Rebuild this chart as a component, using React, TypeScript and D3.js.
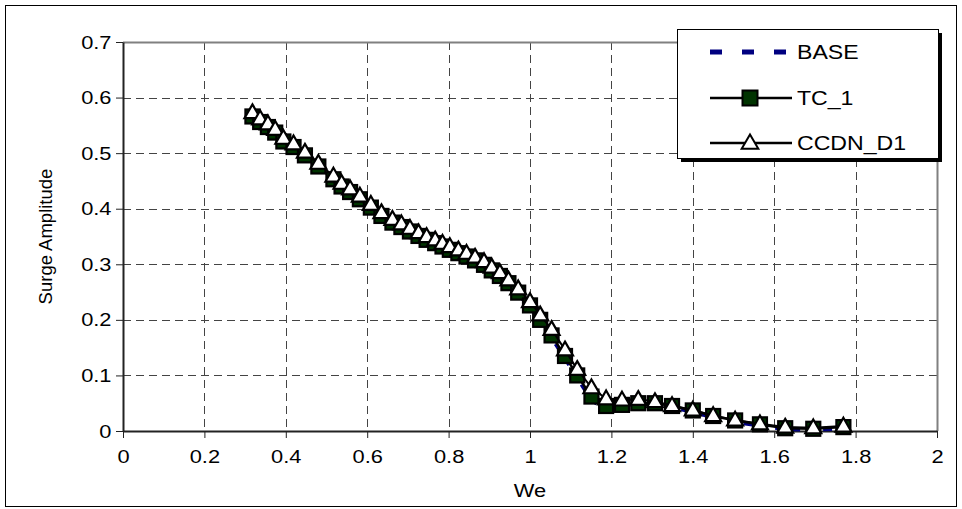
import { useEffect, useRef } from 'react';
import * as d3 from 'd3';

// We values (x) shared by all three series
const weValues = [
  0.318, 0.337, 0.356, 0.374, 0.394, 0.419, 0.447, 0.48, 0.517, 0.537,
  0.558, 0.582, 0.609, 0.635, 0.662, 0.684, 0.705, 0.726, 0.746, 0.767,
  0.785, 0.803, 0.824, 0.844, 0.865, 0.887, 0.906, 0.926, 0.947, 0.971,
  1.0, 1.025, 1.053, 1.086, 1.116, 1.151, 1.187, 1.226, 1.266, 1.307,
  1.349, 1.4, 1.45, 1.504, 1.565, 1.627, 1.696, 1.77,
];

const baseValues = [
  0.564, 0.554, 0.545, 0.535, 0.519, 0.509, 0.494, 0.474, 0.451, 0.438,
  0.428, 0.415, 0.4, 0.385, 0.373, 0.365, 0.357, 0.349, 0.342, 0.336,
  0.33, 0.324, 0.318, 0.312, 0.305, 0.297, 0.287, 0.277, 0.264, 0.246,
  0.222, 0.196, 0.167, 0.13, 0.095, 0.055, 0.038, 0.042, 0.046, 0.047,
  0.042, 0.034, 0.024, 0.016, 0.009, 0.003, 0.002, 0.004,
];

const tc1Values = [
  0.566, 0.556, 0.547, 0.537, 0.521, 0.511, 0.496, 0.476, 0.453, 0.44,
  0.43, 0.417, 0.402, 0.387, 0.375, 0.367, 0.359, 0.351, 0.344, 0.338,
  0.332, 0.326, 0.32, 0.314, 0.307, 0.299, 0.289, 0.279, 0.266, 0.249,
  0.226, 0.2, 0.172, 0.135, 0.1, 0.062, 0.045, 0.047, 0.05, 0.05,
  0.045, 0.037, 0.027, 0.019, 0.012, 0.005, 0.004, 0.007,
];

const ccdnValues = [
  0.573, 0.562, 0.553, 0.543, 0.527, 0.517, 0.502, 0.482, 0.459, 0.446,
  0.436, 0.423, 0.408, 0.393, 0.381, 0.373, 0.365, 0.357, 0.35, 0.344,
  0.338, 0.332, 0.326, 0.32, 0.313, 0.305, 0.295, 0.285, 0.272, 0.256,
  0.233, 0.209, 0.183, 0.146, 0.111, 0.078, 0.058, 0.056, 0.057, 0.053,
  0.046, 0.038, 0.028, 0.02, 0.013, 0.007, 0.006, 0.009,
];

const xTicks = [0, 0.2, 0.4, 0.6, 0.8, 1, 1.2, 1.4, 1.6, 1.8, 2];
const yTicks = [0, 0.1, 0.2, 0.3, 0.4, 0.5, 0.6, 0.7];
const seriesNames = ['BASE', 'TC_1', 'CCDN_D1'];

const W = 962;
const H = 509;
const FONT = '"Liberation Sans", Arial, sans-serif';
// the original picture is a little stretched sideways, text included
const STRETCH = 'scale(1.15,1)';

export default function App() {
  const svgRef = useRef<SVGSVGElement>(null);

  useEffect(() => {
    if (!svgRef.current) return;
    const svg = d3.select(svgRef.current);
    svg.selectAll('*').remove();

    const plot = { left: 123, right: 937, top: 42, bottom: 431 };

    const x = d3.scaleLinear().domain([0, 2]).range([plot.left, plot.right]);
    const y = d3.scaleLinear().domain([0, 0.7]).range([plot.bottom, plot.top]);

    // outer chart frame
    svg.append('rect')
      .attr('x', 5.5).attr('y', 5.5)
      .attr('width', W - 11).attr('height', H - 8)
      .attr('fill', '#fff').attr('stroke', '#000').attr('stroke-width', 1);

    // grid lines
    const grid = svg.append('g')
      .attr('stroke', '#444')
      .attr('stroke-width', 1)
      .attr('stroke-dasharray', '8,5');
    grid.selectAll('.vg')
      .data(xTicks.filter((t) => t > 0 && t < 2))
      .enter().append('line')
      .attr('x1', (d) => Math.round(x(d)) + 0.5).attr('x2', (d) => Math.round(x(d)) + 0.5)
      .attr('y1', plot.top).attr('y2', plot.bottom);
    grid.selectAll('.hg')
      .data(yTicks.filter((t) => t > 0 && t < 0.7))
      .enter().append('line')
      .attr('y1', (d) => Math.round(y(d)) + 0.5).attr('y2', (d) => Math.round(y(d)) + 0.5)
      .attr('x1', plot.left).attr('x2', plot.right);

    // top / right plot border (gray)
    svg.append('path')
      .attr('d', `M${plot.left},${plot.top + 0.5}H${plot.right + 0.5}V${plot.bottom}`)
      .attr('fill', 'none').attr('stroke', '#808080').attr('stroke-width', 2);

    // axes
    const xAxis = svg.append('g')
      .attr('transform', `translate(0,${plot.bottom})`)
      .call(d3.axisBottom(x).tickValues(xTicks).tickSize(7).tickSizeOuter(0)
        .tickFormat((d) => d3.format('~g')(d as number)));
    const yAxis = svg.append('g')
      .attr('transform', `translate(${plot.left},0)`)
      .call(d3.axisLeft(y).tickValues(yTicks).tickSize(7).tickSizeOuter(0)
        .tickFormat((d) => d3.format('~g')(d as number)));
    [xAxis, yAxis].forEach((a) => {
      a.select('.domain').attr('stroke', '#222').attr('stroke-width', 2);
      a.selectAll('.tick line').attr('stroke', '#222');
      a.selectAll('.tick text')
        .attr('fill', '#000')
        .attr('transform', STRETCH)
        .style('font-family', FONT)
        .style('font-size', '19px');
    });
    xAxis.selectAll('.tick text').attr('dy', '1.15em');
    yAxis.selectAll('.tick text').attr('x', -10);

    // axis titles
    svg.append('text')
      .attr('transform', `translate(${(plot.left + plot.right) / 2},497) ${STRETCH}`)
      .attr('text-anchor', 'middle')
      .style('font-family', FONT).style('font-size', '19px')
      .text('We');
    svg.append('text')
      .attr('transform', `translate(52,${(plot.top + plot.bottom) / 2}) rotate(-90)`)
      .attr('text-anchor', 'middle')
      .style('font-family', FONT).style('font-size', '18.5px')
      .text('Surge Amplitude');

    const line = (vals: number[]) =>
      d3.line<number>().x((d, i) => x(weValues[i])).y((d) => y(d))(vals);

    // BASE
    svg.append('path')
      .attr('d', line(baseValues))
      .attr('fill', 'none').attr('stroke', '#000080')
      .attr('stroke-width', 3.5).attr('stroke-dasharray', '9,7');

    // TC_1
    svg.append('path')
      .attr('d', line(tc1Values))
      .attr('fill', 'none').attr('stroke', '#000').attr('stroke-width', 2.5);
    const sq = 14;
    svg.append('g').selectAll('rect')
      .data(tc1Values).enter().append('rect')
      .attr('x', (d, i) => x(weValues[i]) - sq / 2)
      .attr('y', (d) => y(d) - sq / 2)
      .attr('width', sq).attr('height', sq)
      .attr('fill', '#003300').attr('stroke', '#000').attr('stroke-width', 2.2);

    // CCDN_D1
    svg.append('path')
      .attr('d', line(ccdnValues))
      .attr('fill', 'none').attr('stroke', '#000').attr('stroke-width', 2);
    const tri = d3.symbol().type(d3.symbolTriangle).size(110);
    svg.append('g').selectAll('path')
      .data(ccdnValues).enter().append('path')
      .attr('transform', (d, i) => `translate(${x(weValues[i])},${y(d) + 1})`)
      .attr('d', tri)
      .attr('fill', '#fff').attr('stroke', '#000').attr('stroke-width', 2.2);

    // legend
    const lg = { x: 677, y: 29, w: 261, h: 129 };
    svg.append('rect')
      .attr('x', lg.x + 4).attr('y', lg.y + 4).attr('width', lg.w).attr('height', lg.h)
      .attr('fill', '#000');
    svg.append('rect')
      .attr('x', lg.x + 0.5).attr('y', lg.y + 0.5).attr('width', lg.w).attr('height', lg.h)
      .attr('fill', '#fff').attr('stroke', '#000').attr('stroke-width', 1);

    const rowY = [52, 98, 143];
    const lx1 = 710;
    const lx2 = 792;
    const mx = 750;
    seriesNames.forEach((name, i) => {
      const g = svg.append('g');
      const ln = g.append('line')
        .attr('x1', lx1).attr('x2', lx2).attr('y1', rowY[i]).attr('y2', rowY[i]);
      if (i === 0) {
        ln.attr('stroke', '#000080').attr('stroke-width', 5).attr('stroke-dasharray', '12,20');
      } else {
        ln.attr('stroke', '#000').attr('stroke-width', 2.5);
      }
      if (i === 1) {
        g.append('rect')
          .attr('x', mx - 7.5).attr('y', rowY[i] - 7.5).attr('width', 15).attr('height', 15)
          .attr('fill', '#003300').attr('stroke', '#000').attr('stroke-width', 2);
      }
      if (i === 2) {
        g.append('path')
          .attr('transform', `translate(${mx},${rowY[i] + 1})`)
          .attr('d', d3.symbol().type(d3.symbolTriangle).size(120)())
          .attr('fill', '#fff').attr('stroke', '#000').attr('stroke-width', 2);
      }
      g.append('text')
        .attr('transform', `translate(797,${rowY[i]}) scale(1.1,1)`)
        .attr('dy', '0.35em')
        .style('font-family', FONT).style('font-size', '21px')
        .text(name);
    });
  }, []);

  return (
    <svg
      ref={svgRef}
      width={W}
      height={H}
      style={{ position: 'absolute', left: 0, top: 0, background: '#fff' }}
    />
  );
}
